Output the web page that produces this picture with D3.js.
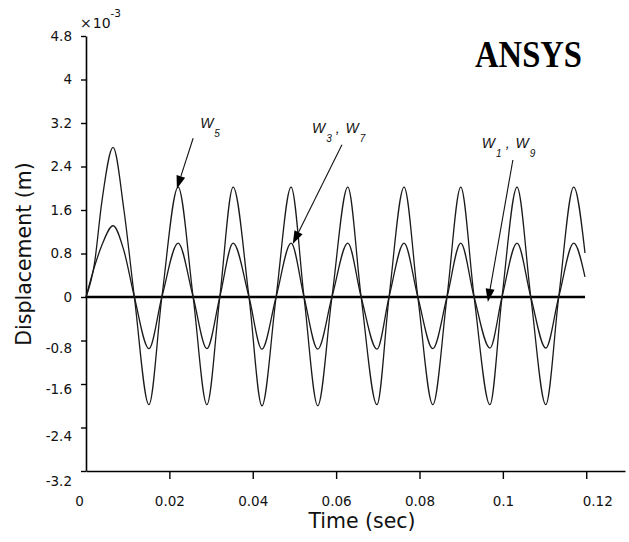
<!DOCTYPE html>
<html>
<head>
<meta charset="utf-8">
<script src="https://cdnjs.cloudflare.com/ajax/libs/d3/7.8.5/d3.min.js"></script>
<style>
  body { margin: 0; background: #fff; }
  svg { display: block; }
</style>
</head>
<body>
<div id="graph"></div>
<script>
// sample times (sec): peaks, zero crossings, troughs
const timeSec = [0, 0.0020, 0.0038, 0.0065, 0.0091, 0.0116, 0.0151, 0.0182, 0.0221, 0.0257,
  0.0290, 0.0321, 0.0353, 0.0391, 0.0422, 0.0456, 0.0492, 0.0523, 0.0556, 0.0590,
  0.0628, 0.0660, 0.0698, 0.0727, 0.0763, 0.0796, 0.0832, 0.0866, 0.0899, 0.0931,
  0.0969, 0.0998, 0.1034, 0.1067, 0.1103, 0.1134, 0.1170, 0.1197];

// W5 displacement (x 10^-3 m)
const w5 = [0, 0.6, 1.75, 2.75, 1.6, 0, -1.98, 0, 2.02, 0,
  -1.98, 0, 2.02, 0, -2.0, 0, 2.02, 0, -2.0, 0,
  2.02, 0, -1.98, 0, 2.02, 0, -1.98, 0, 2.02, 0,
  -1.98, 0, 2.02, 0, -1.98, 0, 2.02, 0.81];

// W3 , W7 displacement (x 10^-3 m)
const w3w7 = [0, 0.55, 0.95, 1.31, 0.85, 0, -0.95, 0, 0.99, 0,
  -0.95, 0, 0.99, 0, -0.96, 0, 0.99, 0, -0.96, 0,
  0.99, 0, -0.96, 0, 0.99, 0, -0.95, 0, 0.99, 0,
  -0.94, 0, 0.99, 0, -0.94, 0, 0.99, 0.37];

// W1 , W9 stay on zero
const w1w9Time = [0, 0.1197];
const w1w9 = [0, 0];

const xTicks = [0, 0.02, 0.04, 0.06, 0.08, 0.1, 0.12];
const yTicks = [-3.2, -2.4, -1.6, -0.8, 0, 0.8, 1.6, 2.4, 3.2, 4, 4.8];

const w = 629;
const h = 542;
const margin = { top: 36, right: 4, bottom: 71, left: 86 };

const xScale = d3
  .scaleLinear()
  .domain([0, 0.1293])
  .range([margin.left, w - margin.right]);

const yScale = d3
  .scaleLinear()
  .domain([-3.2, 4.8])
  .range([h - margin.bottom, margin.top]);

const svg = d3
  .select("#graph")
  .append("svg")
  .attr("width", w)
  .attr("height", h);

const font = "'DejaVu Sans', sans-serif";

// axes
const xAxis = d3.axisBottom(xScale)
  .tickValues(xTicks)
  .tickSize(8)
  .tickSizeOuter(0)
  .tickPadding(17)
  .tickFormat((d) => String(d));

const yAxis = d3.axisLeft(yScale)
  .tickValues(yTicks)
  .tickSize(5)
  .tickSizeOuter(0)
  .tickPadding(9)
  .tickFormat((d) => String(d));

const gx = svg.append("g")
  .attr("id", "x-axis")
  .attr("transform", `translate(0, ${h - margin.bottom})`)
  .call(xAxis);

const gy = svg.append("g")
  .attr("id", "y-axis")
  .attr("transform", `translate(${margin.left}, 0)`)
  .call(yAxis);

[gx, gy].forEach(function (g) {
  g.attr("font-family", font).attr("font-size", 13.5);
  g.select(".domain").attr("stroke", "#000").attr("stroke-width", 1.6);
  g.selectAll(".tick line").attr("stroke", "#000").attr("stroke-width", 1.4);
  g.selectAll(".tick text").attr("fill", "#111");
});
gx.selectAll(".tick line").filter((d) => d === 0).remove();

// the original labels sit a little off their ticks at the ends
gx.selectAll(".tick text").attr("dx", (d) => d === 0 ? -7 : d === 0.12 ? 11 : 0);
gy.selectAll(".tick text").attr("transform", function (d) {
  const shift = { "-0.8": 8, "-1.6": 5, "-2.4": 9, "-3.2": 10 };
  return "translate(0," + (shift[String(d)] || 0) + ")";
});

// axis titles
svg.append("text")
  .attr("x", 362)
  .attr("y", 528)
  .attr("text-anchor", "middle")
  .attr("font-family", font)
  .attr("font-size", 20.5)
  .attr("fill", "#111")
  .text("Time (sec)");

svg.append("text")
  .attr("transform", "translate(31, 254) rotate(-90)")
  .attr("text-anchor", "middle")
  .attr("font-family", font)
  .attr("font-size", 20.5)
  .attr("fill", "#111")
  .text("Displacement (m)");

// x 10^-3 multiplier
const mult = svg.append("text")
  .attr("x", 80)
  .attr("y", 28)
  .attr("font-family", font)
  .attr("font-size", 14)
  .attr("fill", "#111");
mult.append("tspan").text("\u00d7");
mult.append("tspan").attr("dx", 1).text("10");
mult.append("tspan").attr("dy", -11).attr("font-size", 10.5).text("-3");

// ANSYS logo
svg.append("text")
  .attr("x", 475)
  .attr("y", 67)
  .attr("font-family", "'Liberation Serif', serif")
  .attr("font-weight", "bold")
  .attr("font-size", 38)
  .attr("textLength", 107)
  .attr("lengthAdjust", "spacingAndGlyphs")
  .attr("fill", "#000")
  .text("ANSYS");

// curves
const line = d3.line()
  .x((d) => xScale(d[0]))
  .y((d) => yScale(d[1]))
  .curve(d3.curveMonotoneX);

svg.append("path")
  .datum(w1w9Time.map((t, i) => [t, w1w9[i]]))
  .attr("d", d3.line().x((d) => xScale(d[0])).y((d) => yScale(d[1])))
  .attr("fill", "none")
  .attr("stroke", "#000")
  .attr("stroke-width", 2.6);

[w5, w3w7].forEach(function (vals) {
  svg.append("path")
    .datum(timeSec.map((t, i) => [t, vals[i]]))
    .attr("d", line)
    .attr("fill", "none")
    .attr("stroke", "#1a1a1a")
    .attr("stroke-width", 1.3);
});

// annotations: arrow from start to tip (data units), label near start
const notes = [
  { from: [0.0257, 2.92], to: [0.0218, 1.99], parts: [["W", "5"]], dx: 7, dy: -10 },
  { from: [0.0614, 2.80], to: [0.0496, 0.975], parts: [["W", "3"], ["W", "7"]], dx: -30, dy: -12 },
  { from: [0.1024, 2.52], to: [0.0964, -0.09], parts: [["W", "1"], ["W", "9"]], dx: -31, dy: -12 }
];

notes.forEach(function (n) {
  const x1 = xScale(n.from[0]), y1 = yScale(n.from[1]);
  const x2 = xScale(n.to[0]), y2 = yScale(n.to[1]);
  const ang = Math.atan2(y2 - y1, x2 - x1);
  const len = 13, half = 4.5;
  const bx = x2 - len * Math.cos(ang), by = y2 - len * Math.sin(ang);

  svg.append("line")
    .attr("x1", x1).attr("y1", y1)
    .attr("x2", bx).attr("y2", by)
    .attr("stroke", "#111")
    .attr("stroke-width", 1.1);

  svg.append("path")
    .attr("d", "M" + x2 + "," + y2 +
      "L" + (bx + half * Math.sin(ang)) + "," + (by - half * Math.cos(ang)) +
      "L" + (bx - half * Math.sin(ang)) + "," + (by + half * Math.cos(ang)) + "Z")
    .attr("fill", "#000");

  const t = svg.append("text")
    .attr("x", x1 + n.dx)
    .attr("y", y1 + n.dy)
    .attr("font-family", "'Liberation Sans', sans-serif")
    .attr("font-style", "italic")
    .attr("font-size", 14)
    .attr("fill", "#111");
  n.parts.forEach(function (p, i) {
    if (i > 0) t.append("tspan").attr("dx", 4).attr("dy", -9).text(",");
    t.append("tspan").attr("dx", i > 0 ? 6 : 0).text(p[0]);
    t.append("tspan").attr("dx", 1).attr("dy", 9).attr("font-size", 10).text(p[1]);
  });
});
</script>
</body>
</html>
